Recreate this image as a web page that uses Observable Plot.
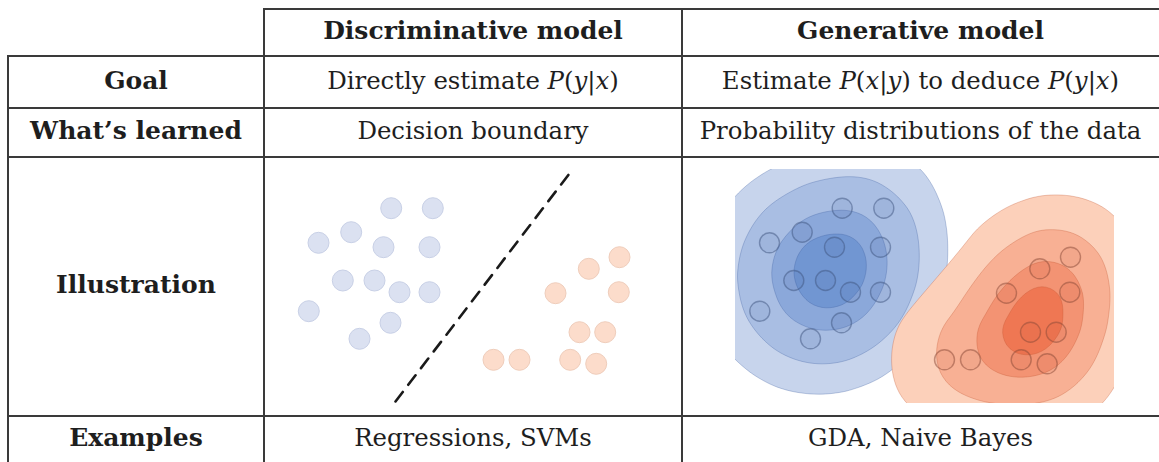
<!DOCTYPE html>
<html>
<head>
<meta charset="utf-8">
<script src="https://cdn.jsdelivr.net/npm/d3@7"></script>
<script src="https://cdn.jsdelivr.net/npm/@observablehq/plot@0.6"></script>
<style>
  html, body { margin: 0; padding: 0; background: #fff; }
  #wrap { position: relative; width: 1159px; height: 462px; overflow: hidden;
          font-family: "DejaVu Serif", serif; color: #1e1e1e; }
  .cell { position: absolute; display: flex; align-items: center; justify-content: center;
          white-space: nowrap; }
  .cell span.t { transform: translateY(-2px); display: inline-block; }
  .b { font-weight: bold; font-size: 25px; }
  .r { font-size: 24.4px; }
  .hl { position: absolute; height: 2px; background: #3a3a3a; z-index: 5; }
  .vl { position: absolute; width: 2px; background: #3a3a3a; z-index: 5; }
  .plot { position: absolute; }
  .plot svg { display: block; }
</style>
</head>
<body>
<div id="wrap"></div>
<script>
// ---------------- data ----------------
const columns = ["Discriminative model", "Generative model"];
const rowLabels = ["Goal", "What’s learned", "Illustration", "Examples"];
const goalTexts = ["Directly estimate $P(y|x)$", "Estimate $P(x|y)$ to deduce $P(y|x)$"];
const learnedTexts = ["Decision boundary", "Probability distributions of the data"];
const exampleTexts = ["Regressions, SVMs", "GDA, Naive Bayes"];

// sample points (same configuration in both illustrations)
const classAX = [106.7, 148.3, 66.7, 34, 99, 145, 58.3, 90, 115, 145, 24.3, 106, 75];
const classAY = [195.3, 195.3, 171.3, 160.7, 156.3, 156.3, 123, 123, 111.3, 111.3, 92.3, 80.7, 64.7];
const classBX = [335, 304.3, 271, 334.3, 295, 320.7, 209, 235, 285.7, 311.7];
const classBY = [146.3, 134.7, 110.3, 111.3, 71.3, 71.3, 43.7, 43.7, 43.7, 39.7];

// decision boundary (dashed line)
const boundaryX = [111, 288];
const boundaryY = [2, 234];

// ---------------- build tables for the library ----------------
const classA = classAX.map((x, i) => ({x, y: classAY[i]}));
const classB = classBX.map((x, i) => ({x, y: classBY[i]}));
const boundary = boundaryX.map((x, i) => ({x, y: boundaryY[i]}));

// ---------------- layout ----------------
const wrap = document.getElementById("wrap");
const colX = [8, 264, 682, 1159];
const rowY = [9, 56, 108, 157, 416, 462];

function mathify(s) {
  return s.replace(/\$(.*?)\$/g, (_, m) =>
    m.replace(/([A-Za-z])/g, '<i>$1</i>'));
}
function addCell(x0, x1, y0, y1, html, cls) {
  const d = document.createElement("div");
  d.className = "cell " + cls;
  d.style.left = x0 + "px"; d.style.width = (x1 - x0) + "px";
  d.style.top = y0 + "px"; d.style.height = (y1 - y0) + "px";
  d.innerHTML = '<span class="t">' + html + '</span>';
  wrap.appendChild(d);
}
function hline(x0, x1, y) {
  const d = document.createElement("div"); d.className = "hl";
  d.style.left = (x0 - 1) + "px"; d.style.width = (x1 - x0 + 2) + "px"; d.style.top = (y - 1) + "px";
  wrap.appendChild(d);
}
function vline(x, y0, y1) {
  const d = document.createElement("div"); d.className = "vl";
  d.style.left = (x - 1) + "px"; d.style.top = (y0 - 1) + "px"; d.style.height = (y1 - y0 + 2) + "px";
  wrap.appendChild(d);
}

columns.forEach((c, j) => addCell(colX[j + 1], colX[j + 2], rowY[0], rowY[1], c, "b"));
rowLabels.forEach((r, i) => addCell(colX[0], colX[1], rowY[i + 1], rowY[i + 2], r, "b"));
goalTexts.forEach((t, j) => addCell(colX[j + 1], colX[j + 2], rowY[1], rowY[2], mathify(t), "r"));
learnedTexts.forEach((t, j) => addCell(colX[j + 1], colX[j + 2], rowY[2], rowY[3], t, "r"));
exampleTexts.forEach((t, j) => addCell(colX[j + 1], colX[j + 2], rowY[4], rowY[5], t, "r"));

hline(colX[1], 1159, rowY[0]);
[1, 2, 3, 4].forEach(i => hline(colX[0], 1159, rowY[i]));
vline(colX[0], rowY[1], 462);
vline(colX[1], rowY[0], 462);
vline(colX[2], rowY[0], 462);

// ---------------- illustrations ----------------
const H = rowY[4] - rowY[3];
const frame = {marginTop: 12, marginBottom: 13};
function base(width, ml, mr) {
  return {
    width, height: H, marginLeft: ml, marginRight: mr, ...frame,
    x: {domain: [0, 379], axis: null},
    y: {domain: [0, 234], axis: null}
  };
}
function place(svg, left) {
  const d = document.createElement("div"); d.className = "plot";
  d.style.left = left + "px"; d.style.top = rowY[3] + "px";
  d.appendChild(svg); wrap.appendChild(d);
}

// Discriminative illustration
const W1 = colX[2] - colX[1];
const p1 = Plot.plot({
  ...base(W1, 20, 19),
  marks: [
    Plot.dot(classA, {x: "x", y: "y", r: 10.5, fill: "#dbe1f1", stroke: "#c8d0e6", strokeWidth: 1}),
    Plot.dot(classB, {x: "x", y: "y", r: 10.5, fill: "#fcdccb", stroke: "#efcdbb", strokeWidth: 1}),
    Plot.line(boundary, {x: "x", y: "y", stroke: "#1a1a1a", strokeWidth: 2.6, strokeDasharray: "12,9"})
  ]
});
place(p1, colX[1]);

// Generative illustration
const W2 = 1159 - colX[2];
const BW = 40;
function peak(data, bw) {
  const p = Plot.plot({
    ...base(W2, 53, 45),
    color: {type: "linear"},
    marks: [Plot.density(data, {x: "x", y: "y", bandwidth: bw, thresholds: 200, fill: "density"})]
  });
  const d = p.scale("color").domain;
  return d[d.length - 1];
}
const peakA = peak(classA, BW), peakB = peak(classB, BW);
const levelsA = [[0.125, "#c7d4ec"], [0.34, "#a9bee3"], [0.66, "#8ba8da"], [0.86, "#7196d2"]];
const levelsB = [[0.125, "#fcd0ba"], [0.38, "#f8b094"], [0.68, "#f39373"], [0.88, "#ef7753"]];
const densMarks = [];
levelsA.forEach(([f, c]) => densMarks.push(Plot.density(classA, {
  x: "x", y: "y", bandwidth: BW, thresholds: [f * peakA], fill: c,
  stroke: "#3d5e9e", strokeOpacity: 0.3, strokeWidth: 1, clip: true})));
levelsB.forEach(([f, c]) => densMarks.push(Plot.density(classB, {
  x: "x", y: "y", bandwidth: BW, thresholds: [f * peakB], fill: c,
  stroke: "#c0522f", strokeOpacity: 0.3, strokeWidth: 1, clip: true})));
const p2 = Plot.plot({
  ...base(W2, 53, 45),
  marks: [
    ...densMarks,
    Plot.dot(classA, {x: "x", y: "y", r: 10, fill: "#2d4f90", fillOpacity: 0.08, stroke: "#3f5680", strokeOpacity: 0.5, strokeWidth: 1.4}),
    Plot.dot(classB, {x: "x", y: "y", r: 10, fill: "#b0452a", fillOpacity: 0.08, stroke: "#8a4a38", strokeOpacity: 0.5, strokeWidth: 1.4})
  ]
});
place(p2, colX[2]);
</script>
</body>
</html>
